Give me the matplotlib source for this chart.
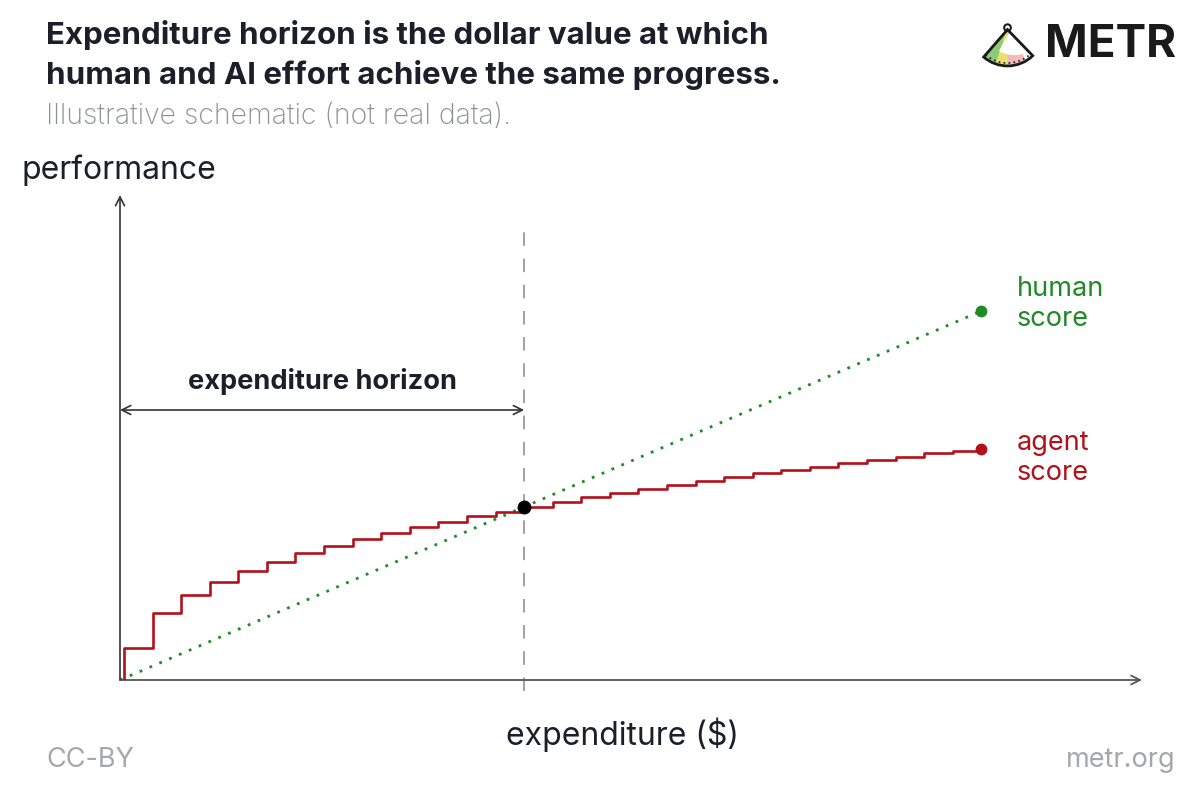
import matplotlib
matplotlib.use("Agg")
import matplotlib.pyplot as plt
from matplotlib.patches import Wedge, Circle, Arc

# ---- data (schematic) ----
# agent score: step levels, one step per unit of expenditure
agent_x = [0, 0, 1, 2, 3, 4, 5, 6, 7, 8, 9, 10, 11, 12, 13, 14, 15, 16, 17, 18,
           19, 20, 21, 22, 23, 24, 25, 26, 27, 28, 29, 30]
agent_y = [0, 32.3, 67.3, 85, 98.3, 109.3, 118.3, 126.7, 133.7, 140.7, 147.3,
           152.7, 158.3, 163.7, 168.3, 173, 178.3, 182.7, 187.3, 191, 195, 199,
           202.7, 206.7, 210, 213.3, 216.7, 220, 223.3, 226.7, 229, 231]
# human score: straight line from origin
human_x = [-0.14, 30]
human_y = [0, 369]
horizon_x = 14
horizon_y = 173

red = "#b3111a"
green = "#1f8a27"
dark = "#1c1f2a"
grey = "#8d9099"

W, H = 1200, 798
fig = plt.figure(figsize=(W / 100, H / 100), dpi=100)
plt.rcParams['font.family'] = ['Inter', 'DejaVu Sans']


def fx(px):
    return px / W


def fy(py):
    return 1 - py / H


# plot area
ax = fig.add_axes((fx(120), fy(680), fx(1142 - 120), (680 - 195) / H))
ax.set_xlim(-0.14, 35.62)
ax.set_ylim(0, 485)
ax.axis('off')

# axes drawn as arrows
ax.annotate('', xy=(1, 0), xytext=(0, 0), xycoords='axes fraction',
            arrowprops=dict(arrowstyle='->', color='#555555', lw=1.3,
                            shrinkA=0, shrinkB=0, mutation_scale=16))
ax.annotate('', xy=(0, 1), xytext=(0, 0), xycoords='axes fraction',
            arrowprops=dict(arrowstyle='->', color='#333333', lw=1.2,
                            shrinkA=0, shrinkB=0, mutation_scale=16))

# expenditure horizon marker
ax.axvline(horizon_x, ymin=-0.022, ymax=0.932, color='#9a9a9a', lw=1.3,
           linestyle=(0, (7.5, 7)), clip_on=False, zorder=1)
ax.annotate('', xy=(horizon_x, 270), xytext=(-0.14, 270),
            arrowprops=dict(arrowstyle='<->', color='#333333', lw=1.2,
                            shrinkA=0, shrinkB=0, mutation_scale=16))
ax.text((horizon_x - 0.14) / 2, 298, 'expenditure horizon', ha='center',
        va='center', fontsize=19.5, fontweight='bold', color=dark)

# curves
ax.plot(human_x, human_y, color=green, lw=2.0, linestyle=(0, (1, 2.85)),
        zorder=2)
ax.plot(human_x[-1], human_y[-1], 'o', color=green, ms=7.5, zorder=4)
ax.plot(agent_x, agent_y, drawstyle='steps-post', color=red, lw=1.9,
        zorder=3)
ax.plot(agent_x[-1], agent_y[-1], 'o', color=red, ms=7.5, zorder=4)
ax.plot(horizon_x, horizon_y, 'o', color='black', ms=9, zorder=5)

# labels
fig.text(fx(1017), fy(304), 'human\nscore', color=green, fontsize=19.5,
         ha='left', va='center', linespacing=1.18)
fig.text(fx(1017), fy(458), 'agent\nscore', color=red, fontsize=19.5,
         ha='left', va='center', linespacing=1.18)

fig.text(fx(22), fy(170), 'performance', color=dark, fontsize=23,
         ha='left', va='center')
fig.text(fx(623), fy(735), 'expenditure ($)', color=dark, fontsize=23,
         ha='center', va='center')

# title block
fig.text(fx(46), fy(35), 'Expenditure horizon is the dollar value at which',
         fontsize=22.5, fontweight='bold', color=dark, ha='left', va='center')
fig.text(fx(46), fy(75), 'human and AI effort achieve the same progress.',
         fontsize=22.5, fontweight='bold', color=dark, ha='left', va='center')
fig.text(fx(46), fy(117), 'Illustrative schematic (not real data).',
         fontsize=20.5, fontweight='light', color=grey, ha='left',
         va='center')

# footer
fig.text(fx(46), fy(760), 'CC-BY', fontsize=19.5, color='#a5a7ad',
         ha='left', va='center')
fig.text(fx(1176), fy(760), 'metr.org', fontsize=19.5, color='#a5a7ad',
         ha='right', va='center')

# METR logo
fig.text(fx(1176), fy(45), 'METR', fontsize=33, fontweight='bold',
         color='#1a1a1a', ha='right', va='center')
lax = fig.add_axes((fx(975), fy(70), fx(65), 55 / H))
lax.set_xlim(-34, 34)
lax.set_ylim(-42, 15)
lax.set_aspect('equal')
lax.axis('off')
lax.add_patch(Wedge((0, 0), 38, 229, 314, color='#ffffff', zorder=1))
lax.add_patch(Wedge((0, 0), 36, 229, 252, color='#8fca78', zorder=2))
lax.add_patch(Wedge((0, 0), 36, 252, 272, color='#eadf74', zorder=2))
lax.add_patch(Wedge((0, 0), 36, 272, 300, color='#f4b9b9', zorder=2))
lax.add_patch(Wedge((7, 4), 30, 240, 330, color='#ffffff', zorder=3))
lax.add_patch(Wedge((0, 0), 38, 229, 314, fill=False, ec='#1a1a1a', lw=2,
                    zorder=4))
lax.add_patch(Arc((0, 0), 70, 70, theta1=229, theta2=314, color='#1a1a1a',
                  lw=1.2, linestyle=(0, (1, 2)), zorder=4))
lax.add_patch(Circle((0, 2), 3.5, fill=False, ec='#1a1a1a', lw=1.5, zorder=4))

fig.savefig('out.png', dpi=100, facecolor='white')
